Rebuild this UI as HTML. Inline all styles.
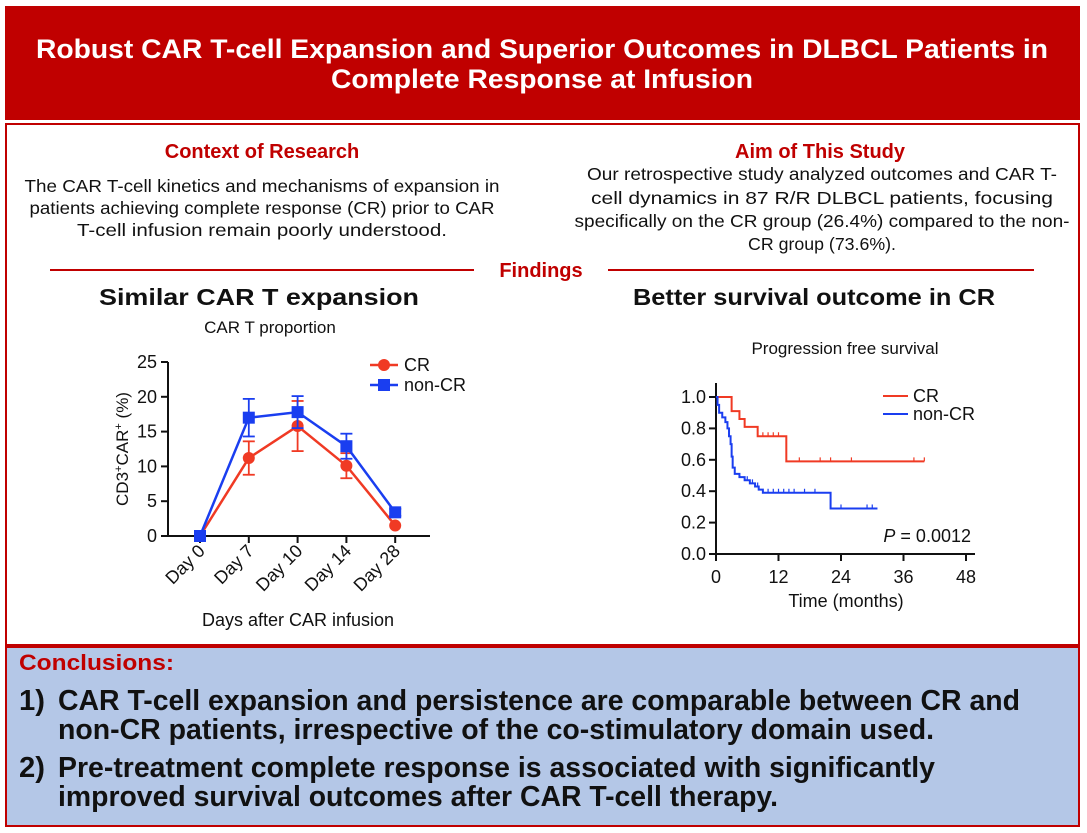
<!DOCTYPE html>
<html><head><meta charset="utf-8"><style>
body{margin:0;background:#fff}
svg{display:block;font-family:"Liberation Sans",Arial,sans-serif}
</style></head><body>
<svg width="1087" height="833" viewBox="0 0 1087 833">
<rect x="5" y="6" width="1075" height="114" fill="#c00000"/>
<text x="542" y="58" text-anchor="middle" font-size="27" font-weight="bold" fill="#fff" textLength="1012" lengthAdjust="spacingAndGlyphs">Robust CAR T-cell Expansion and Superior Outcomes in DLBCL Patients in</text>
<text x="542" y="88" text-anchor="middle" font-size="27" font-weight="bold" fill="#fff" textLength="422" lengthAdjust="spacingAndGlyphs">Complete Response at Infusion</text>
<rect x="6" y="124" width="1073" height="521" fill="#fff" stroke="#c00000" stroke-width="2"/>
<text x="262" y="158" text-anchor="middle" font-size="20" font-weight="bold" fill="#c00000">Context of Research</text>
<g font-size="17.5" fill="#111" text-anchor="middle">
<text x="262" y="192" textLength="475" lengthAdjust="spacingAndGlyphs">The CAR T-cell kinetics and mechanisms of expansion in</text>
<text x="262" y="214" textLength="465" lengthAdjust="spacingAndGlyphs">patients achieving complete response (CR) prior to CAR</text>
<text x="262" y="236" textLength="370" lengthAdjust="spacingAndGlyphs">T-cell infusion remain poorly understood.</text></g>
<text x="820" y="158" text-anchor="middle" font-size="20" font-weight="bold" fill="#c00000">Aim of This Study</text>
<g font-size="17.5" fill="#111" text-anchor="middle">
<text x="822" y="180" textLength="470" lengthAdjust="spacingAndGlyphs">Our retrospective study analyzed outcomes and CAR T-</text>
<text x="822" y="204" textLength="462" lengthAdjust="spacingAndGlyphs">cell dynamics in 87 R/R DLBCL patients, focusing</text>
<text x="822" y="227" textLength="495" lengthAdjust="spacingAndGlyphs">specifically on the CR group (26.4%) compared to the non-</text>
<text x="822" y="250" textLength="148" lengthAdjust="spacingAndGlyphs">CR group (73.6%).</text></g>
<line x1="50" y1="270" x2="474" y2="270" stroke="#c00000" stroke-width="2"/>
<line x1="608" y1="270" x2="1034" y2="270" stroke="#c00000" stroke-width="2"/>
<text x="541" y="277" text-anchor="middle" font-size="20" font-weight="bold" fill="#c00000">Findings</text>
<text x="259" y="305" text-anchor="middle" font-size="23" font-weight="bold" fill="#111" textLength="320" lengthAdjust="spacingAndGlyphs">Similar CAR T expansion</text>
<text x="270" y="333" text-anchor="middle" font-size="17" fill="#111">CAR T proportion</text>
<text x="814" y="305" text-anchor="middle" font-size="23" font-weight="bold" fill="#111" textLength="362" lengthAdjust="spacingAndGlyphs">Better survival outcome in CR</text>
<text x="845" y="354" text-anchor="middle" font-size="17" fill="#111">Progression free survival</text>
<g id="left"></g>
<g id="right"></g>
<rect x="6" y="647" width="1073" height="179" fill="#b4c7e7" stroke="#c00000" stroke-width="2"/>
<text x="19" y="670" font-size="22" font-weight="bold" fill="#c00000" textLength="155" lengthAdjust="spacingAndGlyphs">Conclusions:</text>
<g font-size="29" font-weight="bold" fill="#111">
<text x="19" y="710" textLength="26" lengthAdjust="spacingAndGlyphs">1)</text>
<text x="58" y="710" textLength="962" lengthAdjust="spacingAndGlyphs">CAR T-cell expansion and persistence are comparable between CR and</text>
<text x="58" y="739" textLength="876" lengthAdjust="spacingAndGlyphs">non-CR patients, irrespective of the co-stimulatory domain used.</text></g>
<g font-size="29" font-weight="bold" fill="#111">
<text x="19" y="777" textLength="26" lengthAdjust="spacingAndGlyphs">2)</text>
<text x="58" y="777" textLength="877" lengthAdjust="spacingAndGlyphs">Pre-treatment complete response is associated with significantly</text>
<text x="58" y="806" textLength="720" lengthAdjust="spacingAndGlyphs">improved survival outcomes after CAR T-cell therapy.</text></g>
</svg>
<script>
const days=["Day 0","Day 7","Day 10","Day 14","Day 28"];
const crMean=[0,11.2,15.8,10.1,1.5];
const crErr=[0,2.4,3.6,1.8,0];
const ncrMean=[0,17,17.8,12.9,3.4];
const ncrErr=[0,2.7,2.3,1.8,0.5];
const yTicks=[0,5,10,15,20,25];
const pfsTicksX=[0,12,24,36,48];
const pfsTicksY=[0,0.2,0.4,0.6,0.8,1.0];
const crTimes=[0,3,4.5,5.5,8,13.5,40];
const crSurv=[1,0.91,0.86,0.81,0.75,0.59,0.59];
const crCens=[3,9,10,11,12,16,20,22,26,38,40];
const ncrTimes=[0,0.3,0.6,1.2,1.8,2.2,2.5,2.8,3,3.2,3.6,4.5,5.5,6.5,7.5,8.2,9,22,31];
const ncrSurv=[1,0.95,0.9,0.87,0.84,0.8,0.75,0.7,0.62,0.55,0.51,0.49,0.47,0.45,0.43,0.41,0.39,0.29,0.29];
const ncrCens=[6,7,8,10,11,12,13,14,15,17,19,24,29,30];
const NS="http://www.w3.org/2000/svg";
function mk(p,t,a){const e=document.createElementNS(NS,t);for(const k in a)e.setAttribute(k,a[k]);p.appendChild(e);return e;}
const L=document.getElementById('left');
const ly=v=>536-v*(536-362)/25, lx=i=>200+i*48.8;
mk(L,'line',{x1:168,y1:362,x2:168,y2:536,stroke:'#111','stroke-width':2});
mk(L,'line',{x1:168,y1:536,x2:430,y2:536,stroke:'#111','stroke-width':2});
yTicks.forEach(v=>{mk(L,'line',{x1:161,y1:ly(v),x2:168,y2:ly(v),stroke:'#111','stroke-width':2});
const t=mk(L,'text',{x:157,y:ly(v)+6,'text-anchor':'end','font-size':18,fill:'#111'});t.textContent=v;

});
days.forEach((d,i)=>{mk(L,'line',{x1:lx(i),y1:536,x2:lx(i),y2:543,stroke:'#111','stroke-width':2});
const t=mk(L,'text',{x:lx(i)+6,y:552,'text-anchor':'end','font-size':18,fill:'#111',transform:`rotate(-45 ${lx(i)+6} 552)`});t.textContent=d;

});
const yl=mk(L,'text',{x:128,y:449,'text-anchor':'middle','font-size':17,fill:'#111',transform:'rotate(-90 128 449)'});yl.innerHTML='CD3<tspan font-size="11" dy="-6">+</tspan><tspan dy="6">CAR</tspan><tspan font-size="11" dy="-6">+</tspan><tspan dy="6"> (%)</tspan>';


const xl=mk(L,'text',{x:298,y:626,'text-anchor':'middle','font-size':18,fill:'#111'});xl.textContent='Days after CAR infusion';


function series(m,e,c,sq,name){const g=mk(L,'g',{});


mk(g,'polyline',{points:m.map((v,i)=>lx(i)+','+ly(v)).join(' '),fill:'none',stroke:c,'stroke-width':2.5});
m.forEach((v,i)=>{if(e[i]>0){mk(g,'line',{x1:lx(i),y1:ly(v-e[i]),x2:lx(i),y2:ly(v+e[i]),stroke:c,'stroke-width':1.8});
[v-e[i],v+e[i]].forEach(w=>mk(g,'line',{x1:lx(i)-6,y1:ly(w),x2:lx(i)+6,y2:ly(w),stroke:c,'stroke-width':1.8}));}
sq?mk(g,'rect',{x:lx(i)-6,y:ly(v)-6,width:12,height:12,fill:c}):mk(g,'circle',{cx:lx(i),cy:ly(v),r:6,fill:c});});}
series(crMean,crErr,'#f03a24',false,'series-cr');
series(ncrMean,ncrErr,'#1a3ef0',true,'series-non-cr');
mk(L,'line',{x1:370,y1:365,x2:398,y2:365,stroke:'#f03a24','stroke-width':2.5});mk(L,'circle',{cx:384,cy:365,r:6,fill:'#f03a24'});
mk(L,'line',{x1:370,y1:385,x2:398,y2:385,stroke:'#1a3ef0','stroke-width':2.5});mk(L,'rect',{x:378,y:379,width:12,height:12,fill:'#1a3ef0'});
let t1=mk(L,'text',{x:404,y:371,'font-size':18,fill:'#111'});t1.textContent='CR';


let t2=mk(L,'text',{x:404,y:391,'font-size':18,fill:'#111'});t2.textContent='non-CR';


const R=document.getElementById('right');
const rx=t=>716+t*(966-716)/48, ry=s=>554-s*(554-397);
mk(R,'line',{x1:716,y1:383,x2:716,y2:554,stroke:'#111','stroke-width':2});
mk(R,'line',{x1:709,y1:554,x2:975,y2:554,stroke:'#111','stroke-width':2});
pfsTicksY.forEach(v=>{mk(R,'line',{x1:709,y1:ry(v),x2:716,y2:ry(v),stroke:'#111','stroke-width':2});
const t=mk(R,'text',{x:706,y:ry(v)+6,'text-anchor':'end','font-size':18,fill:'#111'});t.textContent=v.toFixed(1);

});
pfsTicksX.forEach(v=>{mk(R,'line',{x1:rx(v),y1:554,x2:rx(v),y2:561,stroke:'#111','stroke-width':2});
const t=mk(R,'text',{x:rx(v),y:583,'text-anchor':'middle','font-size':18,fill:'#111'});t.textContent=v;

});
const xt=mk(R,'text',{x:846,y:607,'text-anchor':'middle','font-size':18,fill:'#111'});xt.textContent='Time (months)';


const pv=mk(R,'text',{x:971,y:542,'text-anchor':'end','font-size':18,fill:'#111'});pv.innerHTML='<tspan font-style="italic">P</tspan> = 0.0012';


function km(T,S,C,c,name){const g=mk(R,'g',{});


let d='M'+rx(T[0])+' '+ry(S[0]);for(let i=1;i<T.length;i++){d+=' H'+rx(T[i])+' V'+ry(S[i]);}
mk(g,'path',{d:d,fill:'none',stroke:c,'stroke-width':2});
C.forEach(t=>{let s=S[0];for(let i=0;i<T.length;i++)if(T[i]<=t)s=S[i];mk(g,'line',{x1:rx(t),y1:ry(s)-4,x2:rx(t),y2:ry(s),stroke:c,'stroke-width':1.2});});}
km(crTimes,crSurv,crCens,'#f03a24','km-cr');
km(ncrTimes,ncrSurv,ncrCens,'#1a3ef0','km-non-cr');
mk(R,'line',{x1:883,y1:396,x2:908,y2:396,stroke:'#f03a24','stroke-width':2});
mk(R,'line',{x1:883,y1:414,x2:908,y2:414,stroke:'#1a3ef0','stroke-width':2});
let l1=mk(R,'text',{x:913,y:402,'font-size':18,fill:'#111'});l1.textContent='CR';


let l2=mk(R,'text',{x:913,y:420,'font-size':18,fill:'#111'});l2.textContent='non-CR';


</script>
</body></html>
